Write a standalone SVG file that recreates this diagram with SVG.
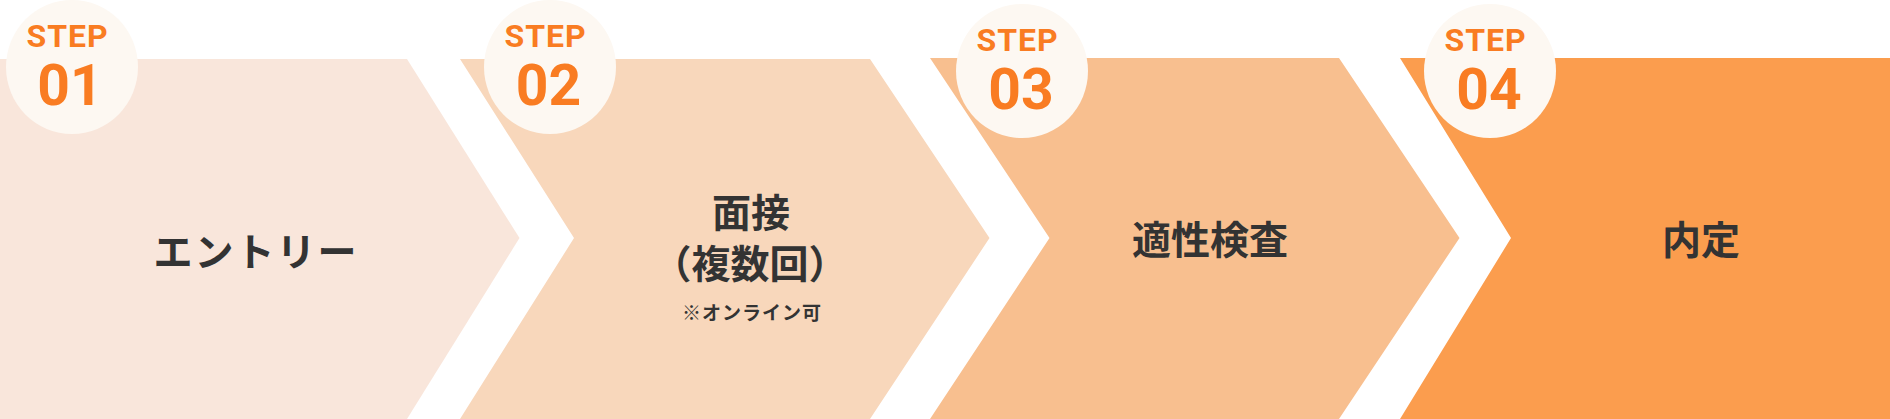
<svg xmlns="http://www.w3.org/2000/svg" width="1890" height="419" viewBox="0 0 1890 419">
<style>
.badge{fill:#fdf8f2}
.step{font-family:Roboto,"Noto Sans","Liberation Sans",sans-serif;font-weight:700;font-size:32px;fill:#f97c22;text-anchor:middle;letter-spacing:1px}
.num{font-family:Roboto,"Noto Sans","Liberation Sans",sans-serif;font-weight:700;font-size:57px;fill:#f97c22;text-anchor:middle}
.lbl{font-family:"Noto Sans CJK JP","Noto Sans",sans-serif;font-weight:700;font-size:39px;fill:#333333;text-anchor:middle;dominant-baseline:central}
.sub{font-family:"Noto Sans CJK JP","Noto Sans",sans-serif;font-weight:700;font-size:19px;fill:#333333;text-anchor:middle;dominant-baseline:central}
</style>
<rect width="1890" height="419" fill="#ffffff"/>
<g id="connectors"></g>
<g id="step1">
<polygon points="0,59 407,59 519.5,238 407,419 0,419" fill="#f9e6db"/>
</g>
<g id="step2">
<polygon points="460,59 870,59 989.5,238 870,419 460,419 574,238" fill="#f8d7bb"/>
</g>
<g id="step3">
<polygon points="930,58 1339,58 1459.5,238 1339,419 930,419 1049.5,238" fill="#f8bf8f"/>
</g>
<g id="step4">
<polygon points="1400,58 1890,58 1890,419 1400,419 1511,238" fill="#fb9d4e"/>
</g>
<g id="label1"><text class="lbl" x="256" y="249" letter-spacing="2">エントリー</text></g>
<g id="label2">
<text class="lbl" x="751" y="209.5" font-size="38">面接</text>
<text class="lbl" x="750" y="260.5" font-size="38">（複数回）</text>
<text class="sub" x="752" y="311" letter-spacing="1">※オンライン可</text>
</g>
<g id="label3"><text class="lbl" x="1210" y="237" font-size="40">適性検査</text></g>
<g id="label4"><text class="lbl" x="1701" y="237" font-size="40">内定</text></g>
<g id="badge1">
<ellipse class="badge" cx="72" cy="67" rx="66" ry="67"/>
<text class="step" x="67.5" y="46.5">STEP</text>
<text class="num" x="70" y="105">01</text>
</g>
<g id="badge2">
<ellipse class="badge" cx="550" cy="67" rx="66" ry="67"/>
<text class="step" x="545.5" y="46.5">STEP</text>
<text class="num" x="548.5" y="105">02</text>
</g>
<g id="badge3">
<ellipse class="badge" cx="1022" cy="71" rx="66" ry="67"/>
<text class="step" x="1017.5" y="50.5">STEP</text>
<text class="num" x="1021" y="109">03</text>
</g>
<g id="badge4">
<ellipse class="badge" cx="1490" cy="71" rx="66" ry="67"/>
<text class="step" x="1485.5" y="51">STEP</text>
<text class="num" x="1489" y="109">04</text>
</g>
</svg>
